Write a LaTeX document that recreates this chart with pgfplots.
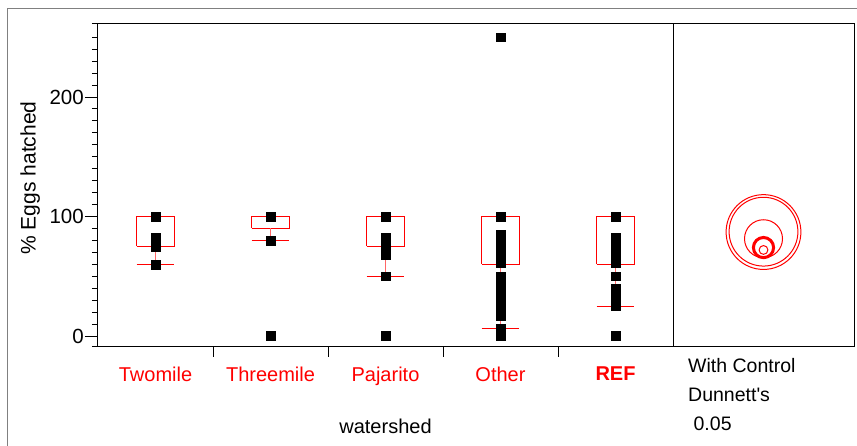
\documentclass[border=0pt]{standalone}
\usepackage{fontspec}
\setmainfont{Liberation Sans}
\usepackage{pgfplots}
\pgfplotsset{compat=1.18}

\begin{document}
\fontsize{19}{23}\selectfont
\begin{tikzpicture}
\path[use as bounding box] (0,0) rectangle (857pt,446pt);
\draw[line width=1pt, gray] (7pt,0pt) -- (7pt,437pt) -- (857pt,437pt);
\begin{axis}[
  at={(98pt,99pt)}, anchor=south west,
  scale only axis, width=575pt, height=323pt,
  xmin=-0.5, xmax=4.5, ymin=-9.2, ymax=261.1,
  axis line style={line width=1pt},
  tick style={line width=1pt, black},
  tick align=outside,
  major tick length=13pt, minor tick length=6pt,
  ytick={0,100,200},
  minor ytick={-9.2,10,20,30,40,50,60,70,80,90,110,120,130,140,150,160,170,180,190,210,220,230,240,250,261.1},
  ytick pos=left, xtick pos=bottom,
  /pgf/number format/assume math mode=true,
  yticklabel style={font=\fontsize{20.5}{24}\selectfont, inner sep=0pt, xshift=-1pt},
  xtick={0,1,2,3,4},
  xticklabels={Twomile,Threemile,Pajarito,Other,\textbf{REF}},
  xticklabel style={red, font=\fontsize{20}{24}\selectfont},
  xtick style={draw=none},
  extra x ticks={0.5,1.5,2.5,3.5},
  extra x tick labels={},
  extra x tick style={xtick style={draw=black, line width=1pt}, major tick length=10pt},
  xlabel={watershed},
  xlabel style={at={(axis description cs:0.5,0)}, anchor=base, yshift=-87pt, font=\fontsize{20}{24}\selectfont},
  ylabel={\% Eggs hatched},
  ylabel style={at={(axis description cs:-0.118,0.523)}, anchor=center, font=\fontsize{21}{25}\selectfont},
  unbounded coords=jump,
  clip=false,
]
% quantile boxes (box: lower quartile to upper quartile; whisker cap at lower whisker)
\addplot[red, line width=1pt, mark=none] coordinates {
(-0.165,75) (0.165,75) (0.165,100) (-0.165,100) (-0.165,75) (0,nan) (-0.165,60) (0.165,60)};
\addplot[red, line width=1pt, mark=none] coordinates {
(0.835,90) (1.165,90) (1.165,100) (0.835,100) (0.835,90) (1,nan) (0.835,80) (1.165,80)};
\addplot[red, line width=1pt, mark=none] coordinates {
(1.835,75) (2.165,75) (2.165,100) (1.835,100) (1.835,75) (2,nan) (1.835,50) (2.165,50)};
\addplot[red, line width=1pt, mark=none] coordinates {
(2.835,60) (3.165,60) (3.165,100) (2.835,100) (2.835,60) (3,nan) (2.835,6) (3.165,6)};
\addplot[red, line width=1pt, mark=none] coordinates {
(3.835,60) (4.165,60) (4.165,100) (3.835,100) (3.835,60) (4,nan) (3.835,25) (4.165,25)};
% whisker stems
\addplot[red!60, line width=1pt, mark=none] coordinates {
(0,75) (0,60) (0,nan) (1,90) (1,80) (1,nan) (2,75) (2,50) (2,nan) (3,60) (3,6) (3,nan) (4,60) (4,25)};
% points
\addplot[only marks, mark=square*, mark size=4.4pt, black] coordinates {
(0,100) (0,82) (0,75) (0,60)
(1,100) (1,80) (1,0)
(2,100) (2,82) (2,79) (2,76) (2,72) (2,68) (2,50) (2,0)
(3,250) (3,100) (3,85) (3,82) (3,79) (3,76) (3,73) (3,70) (3,67) (3,64) (3,61)
(3,50) (3,47) (3,44) (3,41) (3,38) (3,35) (3,32) (3,29) (3,26) (3,23) (3,20) (3,17) (3,6) (3,0)
(4,100) (4,82) (4,79) (4,76) (4,73) (4,70) (4,67) (4,64) (4,61) (4,50) (4,40) (4,36) (4,32) (4,29) (4,25) (4,0)
};
\end{axis}
\begin{axis}[
  at={(673pt,99pt)}, anchor=south west,
  scale only axis, width=181pt, height=323pt,
  xmin=0, xmax=1, ymin=-9.2, ymax=261.1,
  ticks=none,
  axis line style={line width=1pt},
  xlabel={With Control\\Dunnett\textquotesingle s\\\ 0.05},
  xlabel style={at={(axis description cs:0.083,0)}, anchor=north west, align=left, inner sep=0pt, yshift=-11pt, font=\fontsize{19.5}{29.3}\selectfont},
  clip=false,
]
\addplot[only marks, mark=o, mark size=37.4pt, mark options={draw=red, line width=1pt}] coordinates {(0.5,87)};
\addplot[only marks, mark=o, mark size=34.4pt, mark options={draw=red, line width=1pt}] coordinates {(0.5,87.3)};
\addplot[only marks, mark=o, mark size=19pt, mark options={draw=red, line width=1pt}] coordinates {(0.5,81.4)};
\addplot[only marks, mark=o, mark size=10.1pt, mark options={draw=red, line width=3pt}] coordinates {(0.5,74)};
\addplot[only marks, mark=o, mark size=4.4pt, mark options={draw=red, line width=1pt}] coordinates {(0.5,72)};
\end{axis}
\end{tikzpicture}
\end{document}
